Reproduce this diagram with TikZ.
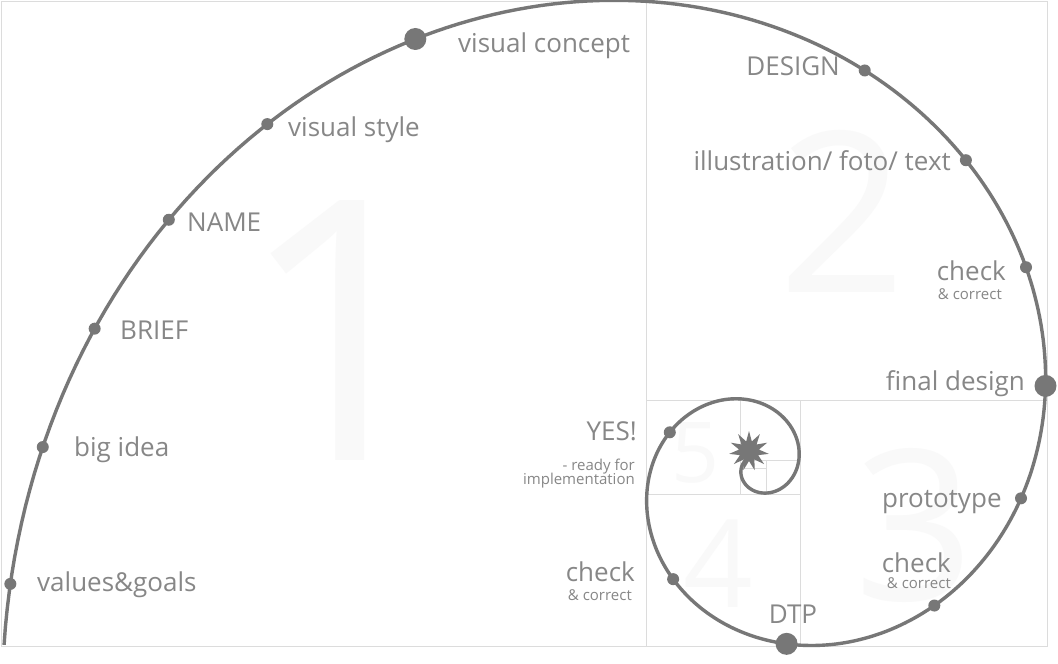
\documentclass[tikz,border=0pt]{standalone}
\usepackage{fontspec}
\setmainfont{Open Sans}
\usetikzlibrary{shapes.geometric}
\definecolor{spiral}{HTML}{777777}
\definecolor{txt}{HTML}{878787}
\definecolor{frame}{HTML}{DCDCDC}
\definecolor{ghost}{HTML}{F9F9F9}
\begin{document}
\begin{tikzpicture}[x=1pt,y=-1pt,
  declare function={sr(\t)=275.6*exp(0.0053468*\t);},
  spiralline/.style={draw=spiral, line width=3.4pt},
  sdot/.style={circle, fill=spiral, inner sep=0pt, minimum size=12pt},
  bdot/.style={circle, fill=spiral, inner sep=0pt, minimum size=22pt},
  lab/.style={text=txt, inner sep=0pt, font=\fontsize{26}{28}\selectfont},
  small/.style={text=txt, inner sep=0pt, font=\fontsize{15}{17}\selectfont},
  sq/.style={draw=frame, line width=1pt},
  ghostnum/.style={text=ghost, inner sep=0pt, anchor=base},
]
\useasboundingbox (0,0) rectangle (1058,664);
\fill[white] (0,0) rectangle (1058,664);
% golden squares
\draw[sq] (1,1) rectangle (1047,646);
\draw[sq] (646,1) -- (646,646);
\draw[sq] (646,400) -- (1047,400);
\draw[sq] (800,400) -- (800,646);
\draw[sq] (646,494) -- (800,494);
\draw[sq] (740,400) -- (740,494);
\draw[sq] (740,460) -- (800,460);
\draw[sq] (766,460) -- (766,494);
\draw[sq] (740,468) -- (766,468);
% ghost numerals
\node[ghostnum, font=\fontsize{364}{364}\selectfont] (n1) at (342,460) {1};
\node[ghostnum, font=\fontsize{224}{224}\selectfont] (n2) at (843,292) {2};
\node[ghostnum, font=\fontsize{210}{210}\selectfont] (n3) at (915,600) {3};
\node[ghostnum, font=\fontsize{122}{122}\selectfont] (n4) at (718,607) {4};
\node[ghostnum, font=\fontsize{84}{84}\selectfont] (n5) at (696,482) {5};
% spiral
\draw[spiralline] plot[domain=-575:193.3, samples=600, variable=\t]
  ({757+sr(\t)*cos(\t)},{467-sr(\t)*sin(\t)});
% dots on the spiral
\foreach \nm/\a in {dvg/188.9, dbig/178.4, dbrief/168.2, dname/157.2, dvs/145.0,
  ddesign/74.8, dill/55.75, dchk1/36.6, dproto/-6.76, dchk2/-38.0, dchk3/-126.8, dyes/-201.7}
  \node[sdot] (\nm) at ({757+sr(\a)*cos(\a)},{467-sr(\a)*sin(\a)}) {};
\foreach \nm/\a in {dvc/128.6, dfinal/15.7, ddtp/-80.5}
  \node[bdot] (\nm) at ({757+sr(\a)*cos(\a)},{467-sr(\a)*sin(\a)}) {};
% star
\node[star, star points=11, star point ratio=2, fill=spiral, inner sep=0pt, minimum size=40pt] (star) at (749,451) {};
% labels
\node[lab, anchor=base west] (lvc) at (458,52) {visual concept};
\node[lab, anchor=base west] (lvs) at (288,136) {visual style};
\node[lab, anchor=base west] (lname) at (187,231) {NAME};
\node[lab, anchor=base west] (lbrief) at (120,339) {BRIEF};
\node[lab, anchor=base west] (lbig) at (74,456) {big idea};
\node[lab, anchor=base west] (lvg) at (37,591) {values\&goals};
\node[lab, anchor=base east] (ldesign) at (840,75) {DESIGN};
\node[lab, anchor=base east] (lill) at (951,170) {illustration/ foto/ text};
\node[lab, anchor=base east] (lchk1) at (1006,280) {check};
\node[small, anchor=base east] (lcor1) at (1002,299) {\& correct};
\node[lab, anchor=base east] (lfinal) at (1025,390) {final design};
\node[lab, anchor=base west] (lproto) at (882,507) {prototype};
\node[lab, anchor=base east] (lchk2) at (951,572) {check};
\node[small, anchor=base east] (lcor2) at (951,588) {\& correct};
\node[lab, anchor=base] (ldtp) at (793,623) {DTP};
\node[lab, anchor=base east] (lchk3) at (635,581) {check};
\node[small, anchor=base east] (lcor3) at (632,600) {\& correct};
\node[lab, anchor=base east] (lyes) at (637,440) {YES!};
\node[small, anchor=base east] (lready) at (635,470) {- ready for};
\node[small, anchor=base east] (limpl) at (635,484) {implementation};
\end{tikzpicture}
\end{document}
